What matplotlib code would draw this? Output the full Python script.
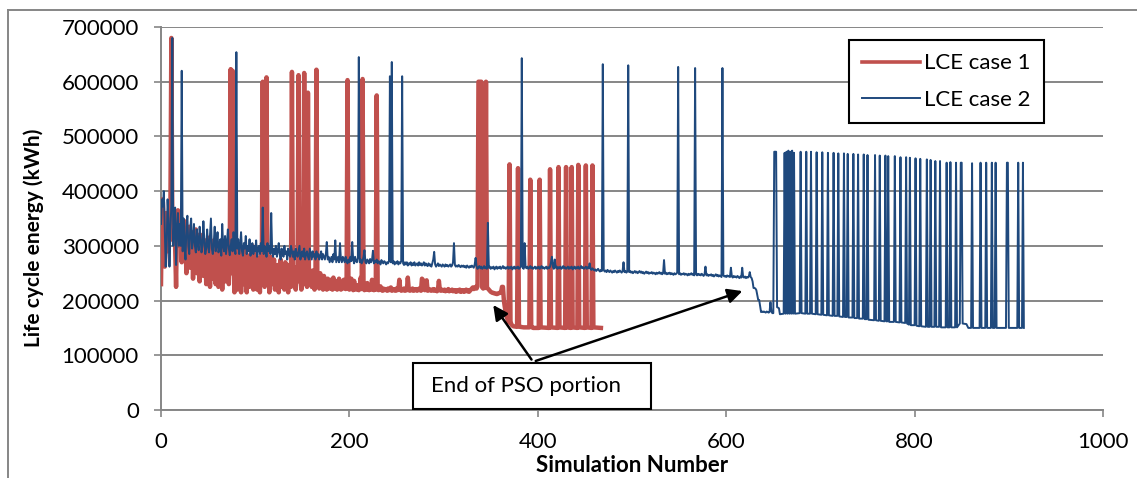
import numpy as np
import matplotlib
matplotlib.use('Agg')
import matplotlib.pyplot as plt
from matplotlib.lines import Line2D

plt.rcParams['font.family'] = ['Lato', 'DejaVu Sans']

# life cycle energy in thousands of kWh, one value per simulation
case1_head = [
    230, 385, 380, 320, 262, 300, 360, 345, 290, 330, 370, 680, 340, 310, 360, 300, 225, 350, 365, 300,
    355, 340, 270, 330, 290, 345, 305, 250, 320, 290, 335, 260, 300, 325, 240, 310, 285, 330, 250, 295,
    320, 235, 300, 275, 320, 245, 290, 310, 230, 295, 270, 315, 225, 285, 300, 240, 310, 265, 230, 295,
    280, 225, 305, 260, 290, 220, 300, 270, 235, 290, 255, 310, 230, 285, 623, 250, 620, 300, 215, 275,
    295, 220, 280, 250, 300, 215, 270, 290, 230, 260, 295, 215, 275, 250, 225, 285, 240, 300, 220, 265,
    255, 285, 220, 270, 240, 215, 280, 250, 600, 265, 225, 290, 608, 245, 270, 215, 260, 280, 230, 250,
    275, 220, 255, 240, 265, 215, 250, 275, 225, 245, 260, 220, 270, 235, 250, 215, 265, 240, 225, 618,
    250, 230, 260, 220, 245, 265, 612, 235, 255, 220, 245, 230, 616, 260, 240, 225, 580, 250, 230, 240,
    225, 255, 235, 220, 245, 622, 230, 240, 222, 250, 228, 235, 220, 245, 225, 232, 220, 240, 226, 222,
    238, 224, 220, 242, 226, 222, 235, 220, 228, 240, 224, 220, 230, 222, 238, 225, 221, 228, 603, 222,
    220, 225, 240, 222, 219, 236, 224, 220, 228, 221, 219, 225, 242, 221, 605, 222, 219, 226, 220, 232,
    221, 219, 224, 220, 238, 221, 219, 223, 220, 575, 222, 219, 221, 226, 220, 218, 222, 219, 221, 220,
    218, 222, 219, 220, 224, 218, 221, 219, 220, 218, 222, 219, 220, 238, 221, 218, 220, 219, 222, 218,
    220, 219, 242, 221, 218, 220, 219, 222, 218, 220, 219, 221, 218, 220, 222, 219, 218, 240, 238, 221,
    219, 220, 237, 218, 221, 219, 220, 218, 219, 221, 218, 220, 219, 217, 220, 236, 219, 218, 220, 219,
    218, 220, 217, 219, 218, 221, 217, 219, 218, 220, 217, 219, 218, 216, 219, 217, 218, 220, 216, 218,
    217, 219, 216, 218, 220, 217, 219, 216, 218, 220, 222, 224, 221, 223, 225, 222, 226, 600, 600, 600,
    600, 224, 222, 226, 223, 600, 224, 222, 220, 218, 216, 215, 214, 214, 213, 213, 212, 212, 213, 214,
    214, 215, 225, 225, 200]
case1_tail_x = [365, 366, 367, 368, 369, 370, 371, 372, 374, 378, 379, 380, 381, 385,
                391, 392, 393, 395, 401, 402, 403, 412, 413, 414, 421, 422, 423,
                429, 430, 431, 435, 436, 437, 442, 443, 444, 450, 451, 452,
                457, 458, 459, 467]
case1_tail_y = [188, 178, 170, 165, 160, 449, 162, 156, 153, 152, 442, 154, 152, 151,
                151, 421, 152, 150, 150, 421, 151, 150, 440, 151, 150, 444, 151,
                150, 444, 151, 150, 444, 151, 150, 448, 151, 150, 447, 151,
                150, 447, 151, 150]

case2_head = [
    340, 385, 372, 400, 330, 262, 300, 385, 350, 262, 330, 375, 680, 300, 345, 370, 265, 330, 360, 300,
    340, 300, 620, 290, 350, 300, 275, 335, 355, 300, 285, 330, 350, 295, 310, 340, 300, 288, 330, 305,
    292, 335, 315, 288, 300, 345, 310, 285, 295, 330, 300, 288, 318, 350, 295, 285, 305, 335, 290, 300,
    325, 288, 295, 312, 282, 340, 300, 290, 318, 285, 305, 330, 295, 283, 300, 312, 290, 325, 300, 285,
    654, 295, 312, 285, 300, 325, 290, 282, 305, 295, 318, 285, 300, 290, 312, 282, 295, 305, 285, 300,
    290, 310, 280, 295, 300, 285, 305, 290, 370, 285, 300, 295, 280, 305, 290, 300, 285, 360, 290, 280,
    295, 285, 300, 280, 290, 305, 285, 275, 295, 290, 280, 300, 285, 290, 275, 295, 285, 280, 300, 290,
    280, 290, 275, 295, 285, 280, 290, 300, 275, 285, 290, 280, 295, 275, 285, 290, 280, 275, 295, 285,
    275, 290, 280, 285, 275, 290, 280, 285, 275, 280, 290, 275, 285, 280, 275, 285, 307, 275, 280, 270,
    275, 280, 270, 285, 275, 310, 270, 275, 280, 270, 305, 275, 270, 280, 275, 270, 280, 272, 268, 275,
    270, 280, 272, 307, 275, 268, 280, 272, 270, 278, 645, 270, 275, 268, 272, 280, 292, 270, 268, 275,
    272, 268, 276, 270, 274, 291, 268, 272, 270, 275, 268, 272, 270, 266, 274, 270, 268, 272, 270, 266,
    270, 268, 272, 610, 270, 636, 268, 272, 266, 270, 268, 272, 266, 270, 268, 272, 610, 268, 265, 270,
    266, 270, 264, 268, 266, 270, 264, 268, 265, 270, 264, 266, 268, 264, 270, 265, 268, 264, 266, 270,
    264, 268, 265, 263, 268, 264, 266, 262, 268, 275, 289, 266, 262, 265, 268, 263, 266, 264, 262, 266,
    264, 262, 266, 263, 265, 262, 264, 266, 262, 264, 270, 305, 265, 262, 264, 262, 265, 263, 261, 264,
    262, 264, 261, 263, 260, 264, 262, 260, 263, 261, 264, 262, 260, 266, 278, 262, 258, 261, 263, 259,
    262, 258, 260, 263, 259, 261, 258, 342, 260, 262, 258, 261, 259, 262, 257, 260, 262, 258, 261, 259,
    262, 258, 260, 263, 259, 261, 258, 260, 262, 258, 261, 259, 262, 257, 260, 262, 258, 261, 259, 262,
    258, 260, 262, 643, 260, 258, 305, 261, 259, 262, 258, 260, 263, 259, 261, 258, 260, 262, 258, 261,
    259, 262, 258, 260, 263, 259, 261, 258, 260, 262, 258, 261, 259, 262, 270, 280, 262, 258, 275, 260,
    262, 258, 261, 259, 262, 258, 260, 263, 259, 261, 258, 260, 262, 258, 261, 259, 262, 257, 260, 262,
    258, 261, 259, 262, 258, 260, 263, 259, 261, 258, 260, 262, 258, 261, 259, 268, 258, 256, 259, 257,
    255, 257, 254, 256, 258, 255, 253, 256, 254, 632, 256, 253, 255, 252, 256, 254, 252, 255, 253, 251,
    254, 252, 255, 253, 251, 254, 252, 255, 253, 251, 254, 270, 252, 254, 251, 253, 630, 252, 254, 251,
    253, 250, 252, 254, 251, 253, 250, 252, 254, 251, 253, 250, 252, 249, 251, 253, 250, 252, 249, 251,
    250, 252, 249, 251, 250, 248, 251, 249, 250, 252, 249, 251, 248, 250, 274, 249, 251, 248, 250, 249,
    251, 248, 250, 249, 247, 250, 248, 249, 251, 627, 248, 250, 247, 249, 248, 250, 247, 249, 248, 246,
    249, 247, 248, 250, 247, 249, 246, 625, 248, 246, 249, 247, 248, 246, 249, 247, 245, 248, 262, 246,
    248, 245, 247, 246, 248, 245, 247, 244, 246, 248, 245, 247, 244, 246, 245, 243, 625, 246, 244, 245,
    243, 246, 244, 245, 243, 260, 244, 242, 245, 243, 244, 242, 245, 243, 241, 244, 242, 260, 243, 242,
    244, 241, 243, 242, 244, 252, 243, 241, 235, 223, 223, 222, 219, 210, 201, 201, 190, 179, 180, 179,
    180, 179, 178, 180, 179, 178, 179, 197, 180, 177]
case2_tail_x = [650, 651, 653, 654, 656, 657,
                661, 662, 663, 664, 665, 666, 667, 668, 669, 670, 671, 672, 673,
                678, 679, 680, 684, 685, 686, 689, 690, 691, 695, 696, 697,
                701, 702, 703, 707, 708, 709, 713, 714, 715, 718, 719, 720,
                724, 725, 726, 728, 729, 730, 734, 735, 736, 739, 740, 741,
                745, 746, 747, 749, 750, 751, 757, 758, 759, 762, 763, 764,
                768, 769, 770, 771, 772, 773, 778, 779, 780, 784, 785, 786,
                790, 791, 792, 794, 795, 796, 800, 801, 802, 805, 806, 807,
                812, 813, 814, 816, 817, 818, 821, 822, 823, 826, 827, 828,
                833, 834, 835, 837, 838, 839, 843, 844, 845, 848, 849, 850, 851,
                855, 857, 860, 861, 862, 869, 870, 871, 875, 876, 877,
                881, 882, 883, 885, 886, 887, 897, 898, 899, 900,
                909, 910, 911, 914, 915, 916]
case2_tail_y = [177, 472, 472, 188, 186, 175,
                176, 470, 176, 472, 176, 474, 176, 472, 176, 474, 176, 470, 176,
                177, 472, 177, 176, 472, 176, 176, 472, 176, 175, 471, 175,
                174, 471, 174, 173, 470, 173, 172, 470, 172, 172, 469, 171,
                170, 469, 170, 170, 468, 169, 169, 468, 168, 168, 467, 167,
                167, 467, 166, 166, 466, 165, 164, 466, 164, 163, 465, 163,
                162, 465, 162, 162, 464, 161, 161, 464, 161, 160, 462, 160,
                159, 462, 158, 156, 461, 155, 155, 460, 154, 153, 459, 153,
                152, 458, 152, 152, 457, 152, 152, 455, 152, 152, 455, 151,
                151, 452, 151, 151, 453, 151, 151, 452, 151, 158, 452, 452, 158,
                157, 150, 150, 451, 150, 150, 452, 150, 150, 452, 150,
                150, 452, 150, 150, 452, 150, 150, 452, 452, 150,
                150, 452, 150, 150, 452, 150]

x1 = list(range(len(case1_head))) + case1_tail_x
y1 = np.array(case1_head + case1_tail_y) * 1000
x2 = list(range(len(case2_head))) + case2_tail_x
y2 = np.array(case2_head + case2_tail_y) * 1000

red = '#C0504D'
blue = '#1F497D'
grid = '#868686'

fig = plt.figure(figsize=(11.37, 4.78), dpi=100)
ax = fig.add_axes([0.1416, 0.1423, 0.8285, 0.8012])

ax.plot(x1, y1, color=red, lw=3.2, label='LCE case 1', zorder=3)
ax.plot(x2, y2, color=blue, lw=1.4, label='LCE case 2', zorder=4)

ax.set_xlim(0, 1000)
ax.set_ylim(0, 700000)
ax.set_xticks(range(0, 1001, 200))
ax.set_yticks(range(0, 700001, 100000))
ax.yaxis.grid(True, color=grid, lw=1.4)
ax.set_axisbelow(True)
for s in ['top', 'right']:
    ax.spines[s].set_visible(False)
for s in ['left', 'bottom']:
    ax.spines[s].set_color(grid)
    ax.spines[s].set_linewidth(1.4)
ax.tick_params(axis='both', direction='out', length=5, width=1.2, color=grid,
               labelsize=16, labelcolor='black')
ax.tick_params(axis='y', pad=11)
ax.tick_params(axis='x', pad=11)

ax.set_xlabel('Simulation Number', fontsize=16, fontweight='bold')
ax.xaxis.set_label_coords(0.5, -0.118)
ax.set_ylabel('Life cycle energy (kWh)', fontsize=15, fontweight='bold')
ax.yaxis.set_label_coords(-0.124, 0.449)

leg = ax.legend(loc='upper right', bbox_to_anchor=(0.9374, 0.966), fontsize=16,
                frameon=True, fancybox=False, framealpha=1, edgecolor='black',
                handlelength=2.6, handletextpad=0.2, labelspacing=0.75, borderpad=0.6,
                borderaxespad=0)
leg.get_frame().set_linewidth(1.5)
leg.get_lines()[0].set_linewidth(2.6)

# callout box with two arrows
ax.annotate('', xy=(351, 196000), xytext=(395, 88000),
            arrowprops=dict(arrowstyle='-|>', color='black', lw=1.8, mutation_scale=22), zorder=6)
ax.annotate('', xy=(620, 219000), xytext=(395, 88000),
            arrowprops=dict(arrowstyle='-|>', color='black', lw=1.8, mutation_scale=22), zorder=6)
box = plt.Rectangle((267.5, 2000), 252.5, 84000, facecolor='white', edgecolor='black',
                    lw=1.5, zorder=7)
ax.add_patch(box)
ax.text(287, 44000, 'End of PSO portion', fontsize=16, va='center', ha='left', zorder=8)

# chart area border
fig.add_artist(Line2D([0.007, 0.007], [0, 0.979], color=grid, lw=1.4))
fig.add_artist(Line2D([0.007, 1], [0.979, 0.979], color=grid, lw=1.4))

fig.savefig('out.png', dpi=100)
